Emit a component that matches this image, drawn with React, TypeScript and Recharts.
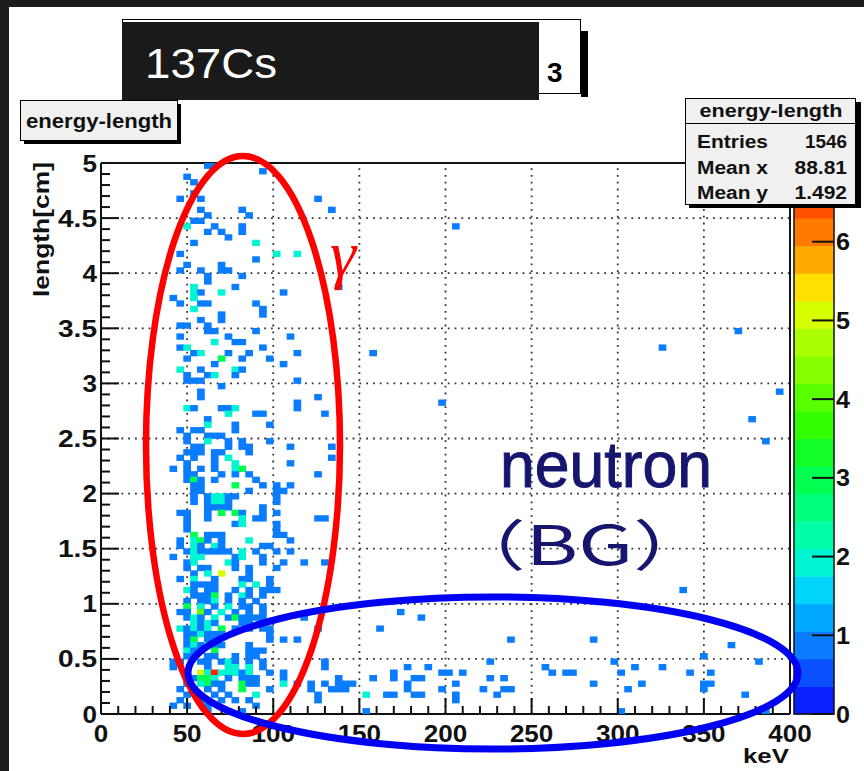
import React from "react"
import { ScatterChart, Scatter, XAxis, YAxis, ReferenceLine } from "recharts"

// 2D histogram "energy-length": 100 x 100 bins, 4 keV by 0.05 cm
const X_BIN = 4
const Y_BIN = 0.05
const FIRST_COL = 10 // dense block starts at 40 keV

// bin contents for 40-144 keV, one string per length row, top row = 4.95-5.0 cm
const DENSE_ROWS = [
  ".....11...................",
  ".............1............",
  "..1.......................",
  "...1......................",
  "..........................",
  "...1......................",
  ".1..1................1....",
  "..........................",
  "....1.....1............1..",
  ".....1.....1..............",
  "...11.....................",
  "..2...1...1...............",
  ".....1.1..1...............",
  "........1.................",
  "...1........2.............",
  "..........................",
  ".1.............2..2.......",
  "............1.............",
  "..1....1..................",
  ".1..1..11.................",
  ".....1....1...............",
  ".....1....................",
  "...2.....1..............1.",
  "...21..2........1.........",
  "1..2......................",
  ".1..11......1.............",
  "...2.........1............",
  ".......1.....1............",
  "....1..1..................",
  ".11..1....................",
  ".....11.....1.............",
  ".1......1........1........",
  "......2..11...............",
  ".12..........1............",
  "...12...1..1......1.......",
  "..1....3..1...1...........",
  "......1.........1.........",
  ".2..1....21...............",
  "..1..12..1................",
  "..111.............1.......",
  ".......1..................",
  "....1.....................",
  "....1................1....",
  "..................1.......",
  "..21...112........1.......",
  "........2...11........1...",
  ".....1....................",
  ".....2...1....1...........",
  ".1.11....1................",
  "..1..111..................",
  "..1..2..1.1...1...........",
  "...11...1.11.....1.....1..",
  "..111.11...1..............",
  ".1.1..1.2..............1..",
  "..1...1..2.......1........",
  "1.1.1.1..23...............",
  "..11...1.1.1.........1....",
  "..131.1.....1.............",
  "...11....3...1.1.1........",
  "...11......1...11.........",
  "...1.12211.....1..........",
  "...1.1221......1..........",
  ".....1111....1............",
  ".11..1.3.31..1.1..........",
  "..1..1....2.11.......11...",
  "..1......12....1..........",
  "..1............1..........",
  "...3.111.......11.........",
  ".1.231.1...2.....1........",
  ".1.21.21.....11...........",
  "..1211111.2.1..1.1........",
  "1..22....12..1............",
  "..12....21...1..1..1..1...",
  "..1.11...1.1...1..........",
  "...1.2.5...1..............",
  ".1.2..1...11..1...........",
  "...1111...2.2.1...........",
  "..21.11..1.1.111..........",
  "...1113.1.21.1............",
  "..1.112.1.1.1.............",
  "..3.2.1.2.11.1............",
  ".11.41.2.1.1.1............",
  "..121.2.131111.....1......",
  "...2121...11.1............",
  ".21212.3.1.1.11......1....",
  "..112111......1...........",
  "..13.11.......1.1.1.......",
  "..121211...1..............",
  "..211.3....111............",
  "..11.11..1.11.............",
  "11..11.121.1.1........1...",
  "1....1..22.2.1........1...",
  "..1.52722212..1.1.........",
  "..11332.1.111...1.......1.",
  "..1.2311..311...2.1.1.1.1.",
  ".1.1.1.1..3...1.....1..11.",
  "..1...1.1...2........1....",
  ".1..1..1.1.1.........1....",
  "1.1..1......1.............",
  ".....1..1.1...............",
]

// isolated bins outside the dense block: [keV, cm, count]
const SPARSE_BINS: [number, number, number][] = [
  [206, 4.425, 1], [158, 3.275, 1], [198, 2.825, 1], [326, 3.325, 1], [370, 3.475, 1],
  [394, 2.925, 1], [378, 2.675, 1], [386, 2.475, 1], [338, 1.125, 1], [174, 0.925, 1],
  [186, 0.875, 1], [162, 0.775, 1], [238, 0.675, 1], [286, 0.675, 1], [366, 0.625, 1],
  [350, 0.525, 1], [382, 0.475, 1], [298, 0.475, 1], [226, 0.475, 1], [178, 0.425, 1],
  [190, 0.425, 1], [258, 0.425, 1], [262, 0.375, 1], [270, 0.375, 1], [274, 0.375, 1],
  [310, 0.425, 1], [326, 0.425, 1], [342, 0.375, 1], [354, 0.375, 1], [302, 0.375, 1],
  [286, 0.275, 1], [314, 0.275, 1], [350, 0.275, 1], [354, 0.275, 1], [350, 0.225, 1],
  [306, 0.225, 1], [374, 0.175, 1], [386, 0.025, 1], [302, 0.025, 1], [158, 0.325, 1],
  [170, 0.375, 1], [170, 0.325, 1], [182, 0.325, 1], [186, 0.325, 1], [178, 0.275, 1],
  [178, 0.225, 1], [166, 0.175, 1], [170, 0.175, 1], [182, 0.175, 1], [186, 0.175, 1],
  [198, 0.375, 1], [202, 0.375, 1], [210, 0.375, 1], [206, 0.275, 1], [206, 0.175, 1],
  [206, 0.125, 1], [198, 0.225, 1], [222, 0.225, 1], [226, 0.325, 1], [234, 0.325, 1],
  [230, 0.175, 1], [234, 0.225, 1], [238, 0.225, 1], [146, 0.275, 1], [142, 0.225, 1],
  [142, 0.275, 1], [154, 0.175, 2], [154, 0.025, 1],
]

const X_TICKS = [
  0, 10, 20, 30, 40, 50, 60, 70, 80, 90, 100, 110, 120, 130, 140, 150, 160, 170, 180, 190, 200,
  210, 220, 230, 240, 250, 260, 270, 280, 290, 300, 310, 320, 330, 340, 350, 360, 370, 380, 390, 400,
]
const X_GRID = [50, 100, 150, 200, 250, 300, 350]
const Y_TICKS = [
  0, 0.1, 0.2, 0.3, 0.4, 0.5, 0.6, 0.7, 0.8, 0.9, 1, 1.1, 1.2, 1.3, 1.4, 1.5, 1.6, 1.7, 1.8, 1.9, 2,
  2.1, 2.2, 2.3, 2.4, 2.5, 2.6, 2.7, 2.8, 2.9, 3, 3.1, 3.2, 3.3, 3.4, 3.5, 3.6, 3.7, 3.8, 3.9, 4,
  4.1, 4.2, 4.3, 4.4, 4.5, 4.6, 4.7, 4.8, 4.9, 5,
]
const Y_GRID = [0.5, 1, 1.5, 2, 2.5, 3, 3.5, 4, 4.5]
const Z_TICKS = [0, 1, 2, 3, 4, 5, 6]
const Z_MAX = 7
const PALETTE = [
  "#0a20ff", "#0a50ff", "#0a7cff", "#00a8ff", "#00d4fa", "#00f6d2", "#00ffa6", "#00ff7a",
  "#00ff50", "#14ff28", "#34ff00", "#5aff00", "#84ff00", "#aaff00", "#d8ff00", "#ffe000",
  "#ffa800", "#ff7a00", "#ff5000", "#ff2000",
]
const STATS = [
  ["Entries", "1546"],
  ["Mean x", "88.81"],
  ["Mean y", "1.492"],
]

const W = 864
const H = 771
const PLOT = { left: 101, right: 790, top: 163, bottom: 714 }
const BW = ((PLOT.right - PLOT.left) * X_BIN) / 400
const BH = ((PLOT.bottom - PLOT.top) * Y_BIN) / 5
const FONT = "'Liberation Sans', Arial, sans-serif"

const bins: { e: number; l: number; n: number }[] = []
DENSE_ROWS.forEach((row, k) => {
  const iy = DENSE_ROWS.length - 1 - k
  row.split("").forEach((ch, c) => {
    if (ch === ".") return
    bins.push({ e: (FIRST_COL + c) * X_BIN + X_BIN / 2, l: iy * Y_BIN + Y_BIN / 2, n: Number(ch) })
  })
})
SPARSE_BINS.forEach(([e, l, n]) => bins.push({ e, l, n }))

function binColor(n: number) {
  const i = Math.floor(n / (Z_MAX / PALETTE.length))
  return PALETTE[Math.min(PALETTE.length - 1, i)]
}

function labelWidth(s: string) {
  return s.split("").reduce((w, ch) => w + (ch === "." ? 10 : 14.5), 0)
}

// slightly oversized cells mimic the soft edges of the screenshot
const BinRect = (p: any) => {
  if (p.cx == null || p.cy == null) return <g />
  return (
    <rect x={p.cx - BW / 2 - 0.4} y={p.cy - BH / 2 - 0.4} width={BW + 0.8} height={BH + 0.8} fill={binColor(p.payload.n)} />
  )
}

const XTick = ({ x, y, payload }: any) => {
  const v = payload.value
  const major = v % 50 === 0
  return (
    <g>
      <line x1={x} x2={x} y1={y} y2={y - (major ? 16 : 8)} stroke="#111" strokeWidth={2} />
      {major && (
        <text x={x} y={y + 28} textAnchor="middle" fontFamily={FONT} fontWeight="bold" fontSize={24} fill="#111"
          textLength={labelWidth(String(v))} lengthAdjust="spacingAndGlyphs">
          {v}
        </text>
      )}
    </g>
  )
}

const YTick = ({ x, y, payload }: any) => {
  const v = payload.value
  const major = Math.abs(v * 2 - Math.round(v * 2)) < 1e-6
  const s = String(v)
  return (
    <g>
      <line x1={x} x2={x + (major ? 18 : 9)} y1={y} y2={y} stroke="#111" strokeWidth={2} />
      {major && (
        <text x={x - 4} y={y + 8.5} textAnchor="end" fontFamily={FONT} fontWeight="bold" fontSize={24} fill="#111"
          textLength={labelWidth(s)} lengthAdjust="spacingAndGlyphs">
          {s}
        </text>
      )}
    </g>
  )
}

function Overlay() {
  const barX = 794
  const barW = 40
  const bandH = (PLOT.bottom - PLOT.top) / PALETTE.length
  const zY = (z: number) => PLOT.bottom - ((PLOT.bottom - PLOT.top) * z) / Z_MAX
  return (
    <svg width={W} height={H} style={{ position: "absolute", left: 0, top: 0, pointerEvents: "none" }}>
      {/* colour scale */}
      {PALETTE.map((c, i) => (
        <rect key={c} x={barX} y={PLOT.bottom - (i + 1) * bandH} width={barW} height={bandH + 0.5} fill={c} />
      ))}
      <rect x={barX} y={PLOT.top} width={barW} height={PLOT.bottom - PLOT.top} fill="none" stroke="#111" strokeWidth={1.5} />
      {Z_TICKS.map((z) => (
        <g key={z}>
          <line x1={barX + 18} x2={barX + barW} y1={zY(z)} y2={zY(z)} stroke="#111" strokeWidth={2} />
          <text x={barX + barW + 2} y={zY(z) + 8.5} fontFamily={FONT} fontWeight="bold" fontSize={24} fill="#111"
            textLength={14} lengthAdjust="spacingAndGlyphs">
            {z}
          </text>
        </g>
      ))}

      {/* histogram title pave, mostly hidden */}
      <rect x={581} y={31} width={7} height={66} fill="#000" />
      <rect x={122.5} y={19.5} width={458} height={74} fill="#fff" stroke="#000" />
      <text x={547} y={82} fontFamily={FONT} fontWeight="bold" fontSize={28} fill="#000">3</text>
      <rect x={122} y={22} width={417} height={78} fill="#1a1a1a" />
      <text x={145} y={78} fontFamily={FONT} fontSize={42} fill="#fff" textLength={132} lengthAdjust="spacingAndGlyphs">
        137Cs
      </text>

      {/* left title box */}
      <rect x={24} y={104} width={157} height={40} fill="#000" />
      <rect x={20.5} y={100.5} width={157} height={40} fill="#f0f0f0" stroke="#000" />
      <text x={26} y={128} fontFamily={FONT} fontWeight="bold" fontSize={21} fill="#111" textLength={146}
        lengthAdjust="spacingAndGlyphs">
        energy-length
      </text>

      {/* stats box */}
      <rect x={689} y={102} width={172} height={106} fill="#000" />
      <rect x={685.5} y={98.5} width={170} height={106} fill="#f0f0f0" stroke="#000" />
      <line x1={685.5} x2={855.5} y1={123.5} y2={123.5} stroke="#000" />
      <text x={771} y={117} textAnchor="middle" fontFamily={FONT} fontWeight="bold" fontSize={18} fill="#111"
        textLength={143} lengthAdjust="spacingAndGlyphs">
        energy-length
      </text>
      {STATS.map(([k, v], i) => (
        <g key={k}>
          <text x={697} y={148 + i * 25.5} fontFamily={FONT} fontWeight="bold" fontSize={18} fill="#111"
            textLength={71} lengthAdjust="spacingAndGlyphs">
            {k}
          </text>
          <text x={847} y={148 + i * 25.5} textAnchor="end" fontFamily={FONT} fontWeight="bold" fontSize={18} fill="#111"
            textLength={v.length * 10.5} lengthAdjust="spacingAndGlyphs">
            {v}
          </text>
        </g>
      ))}

      {/* axis titles */}
      <text transform="translate(49,297) rotate(-90)" fontFamily={FONT} fontWeight="bold" fontSize={22} fill="#111"
        textLength={135} lengthAdjust="spacingAndGlyphs">
        length[cm]
      </text>
      <text x={743} y={763} fontFamily={FONT} fontWeight="bold" fontSize={21} fill="#111" textLength={46}
        lengthAdjust="spacingAndGlyphs">
        keV
      </text>

      {/* annotations */}
      <text x={330} y={276} fontFamily="'Liberation Serif', serif" fontStyle="italic" fontSize={66} fill="#ff0000">
        γ
      </text>
      <text x={500} y={487} fontFamily={FONT} fontSize={64} fill="#16166e" stroke="#16166e" strokeWidth={1}
        textLength={212} lengthAdjust="spacingAndGlyphs">
        neutron
      </text>
      <text transform="translate(446,565) scale(1.45,1)" fontFamily="'Noto Sans CJK JP', sans-serif" fontSize={55}
        fill="#16166e">
        （BG）
      </text>
      <ellipse cx={243} cy={445} rx={97} ry={289} fill="none" stroke="#ff0000" strokeWidth={6.5} />
      <ellipse cx={493} cy={673} rx={305} ry={76} fill="none" stroke="#0000f2" strokeWidth={7} />
    </svg>
  )
}

export default function App() {
  return (
    <div style={{ position: "fixed", left: 0, top: 0, width: W, height: H, background: "#1c1c1c", overflow: "hidden" }}>
      <div style={{ position: "absolute", left: 9, top: 7, width: W - 9, height: H - 7, background: "#fff" }} />
      <div style={{ position: "absolute", left: 0, top: 0 }}>
        <ScatterChart width={W} height={H} margin={{ top: PLOT.top, right: W - PLOT.right, bottom: 0, left: 0 }}>
          <XAxis
            type="number"
            dataKey="e"
            domain={[0, 400]}
            ticks={X_TICKS}
            interval={0}
            height={H - PLOT.bottom}
            tickSize={0}
            tickMargin={0}
            tickLine={false}
            axisLine={{ stroke: "#111", strokeWidth: 2 }}
            tick={<XTick />}
            allowDataOverflow
          />
          <YAxis
            type="number"
            dataKey="l"
            domain={[0, 5]}
            ticks={Y_TICKS}
            interval={0}
            width={PLOT.left}
            tickSize={0}
            tickMargin={0}
            tickLine={false}
            axisLine={{ stroke: "#111", strokeWidth: 2 }}
            tick={<YTick />}
            allowDataOverflow
          />
          <Scatter data={bins} shape={BinRect} isAnimationActive={false} />
          {X_GRID.map((v) => (
            <ReferenceLine key={"x" + v} x={v} stroke="#333" strokeWidth={1.8} strokeDasharray="1.8 5" />
          ))}
          {Y_GRID.map((v) => (
            <ReferenceLine key={"y" + v} y={v} stroke="#333" strokeWidth={1.8} strokeDasharray="1.8 5" />
          ))}
          <ReferenceLine y={5} stroke="#111" strokeWidth={2} />
          <ReferenceLine x={400} stroke="#111" strokeWidth={2} />
        </ScatterChart>
      </div>
      <Overlay />
    </div>
  )
}
